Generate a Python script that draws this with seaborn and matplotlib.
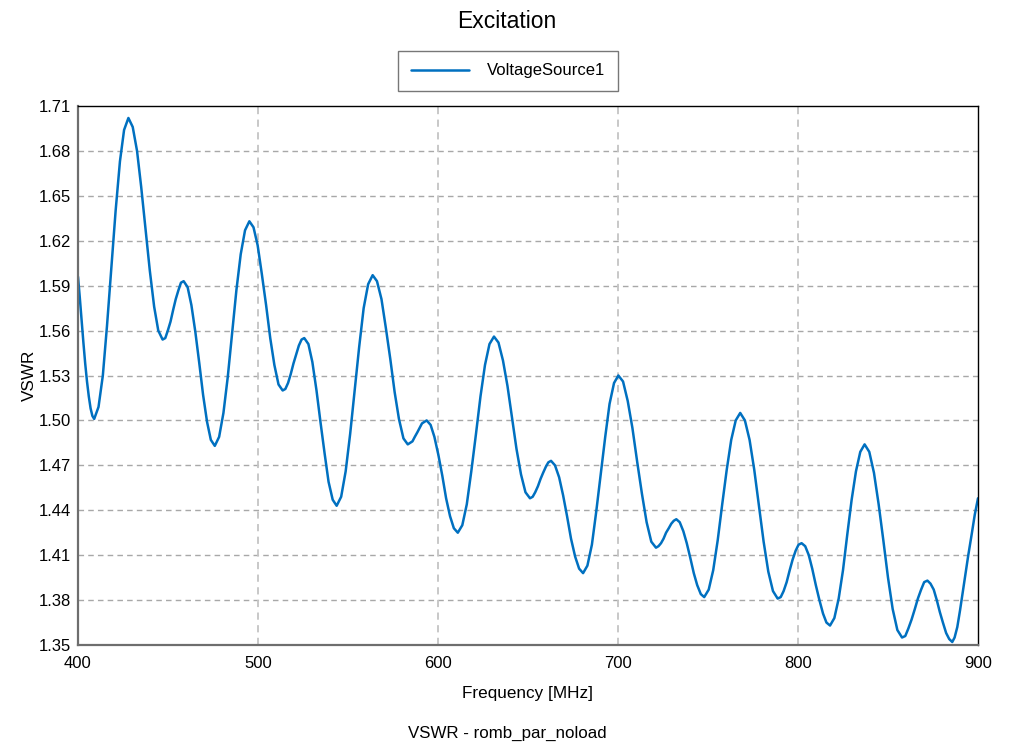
import matplotlib
matplotlib.use("Agg")
import matplotlib.pyplot as plt
import seaborn as sns
import pandas as pd

# ---- data ----
freq_mhz = [
    400, 401, 402, 403, 404, 405, 406, 407, 408, 409,
    411.4, 413.8, 416.1, 418.5, 420.9, 423.3, 425.6, 428,
    430.4, 432.8, 435.1, 437.5, 439.9, 442.3, 444.6, 447,
    448.5, 449.9, 451.4, 452.9, 454.3, 455.8, 457.2, 458.7,
    460.9, 463.0, 465.2, 467.4, 469.5, 471.7, 473.8, 476,
    478.4, 480.8, 483.2, 485.6, 488.0, 490.4, 492.8, 495.2,
    497.5, 499.8, 502.1, 504.5, 506.8, 509.1, 511.4, 513.7,
    515.2, 516.7, 518.2, 519.7, 521.2, 522.7, 524.2, 525.7,
    528.0, 530.2, 532.5, 534.7, 537.0, 539.2, 541.5, 543.7,
    546.2, 548.7, 551.2, 553.7, 556.2, 558.7, 561.2, 563.7,
    566.1, 568.6, 571.0, 573.5, 575.9, 578.3, 580.8, 583.2,
    584.5, 585.8, 587.1, 588.5, 589.8, 591.1, 592.4, 593.7,
    595.9, 598.0, 600.2, 602.4, 604.5, 606.7, 608.8, 611.0,
    613.5, 616.0, 618.5, 621.1, 623.6, 626.1, 628.6, 631.1,
    633.6, 636.1, 638.6, 641.1, 643.6, 646.1, 648.6, 651.1,
    652.6, 654.0, 655.5, 657.0, 658.4, 659.9, 661.3, 662.8,
    665.0, 667.3, 669.5, 671.7, 673.9, 676.2, 678.4, 680.6,
    683.0, 685.5, 687.9, 690.4, 692.9, 695.3, 697.8, 700.2,
    702.8, 705.4, 708.0, 710.7, 713.3, 715.9, 718.5, 721.1,
    722.5, 723.9, 725.3, 726.7, 728.2, 729.6, 731.0, 732.4,
    734.3, 736.3, 738.2, 740.2, 742.1, 744.0, 746.0, 747.9,
    750.4, 752.9, 755.4, 757.9, 760.4, 762.9, 765.4, 767.9,
    770.5, 773.1, 775.7, 778.3, 780.9, 783.5, 786.1, 788.7,
    790.4, 792.0, 793.7, 795.4, 797.0, 798.7, 800.3, 802.0,
    804.0, 806.0, 807.9, 809.9, 811.9, 813.9, 815.8, 817.8,
    820.2, 822.6, 825.0, 827.4, 829.8, 832.2, 834.6, 837.0,
    839.6, 842.2, 844.8, 847.4, 850.0, 852.6, 855.2, 857.8,
    859.6, 861.3, 863.1, 864.9, 866.6, 868.4, 870.1, 871.9,
    873.6, 875.4, 877.1, 878.8, 880.5, 882.3, 884.0, 885.7,
    887.0, 888.5, 890.0, 891.5, 893.0, 894.6, 896.5, 898.2, 900,
]

vswr = [
    1.596, 1.582, 1.567, 1.552, 1.538, 1.526, 1.516, 1.508, 1.503, 1.501,
    1.509, 1.530, 1.563, 1.602, 1.640, 1.673, 1.694, 1.702,
    1.696, 1.680, 1.656, 1.628, 1.600, 1.576, 1.560, 1.554,
    1.555, 1.560, 1.566, 1.574, 1.581, 1.587, 1.592, 1.593,
    1.589, 1.577, 1.559, 1.538, 1.517, 1.499, 1.487, 1.483,
    1.489, 1.505, 1.529, 1.558, 1.587, 1.611, 1.627, 1.633,
    1.629, 1.617, 1.598, 1.577, 1.555, 1.537, 1.524, 1.520,
    1.521, 1.525, 1.531, 1.538, 1.544, 1.550, 1.554, 1.555,
    1.551, 1.539, 1.520, 1.499, 1.478, 1.459, 1.447, 1.443,
    1.449, 1.466, 1.491, 1.520, 1.549, 1.575, 1.591, 1.597,
    1.593, 1.581, 1.562, 1.541, 1.519, 1.501, 1.488, 1.484,
    1.485, 1.486, 1.489, 1.492, 1.495, 1.498, 1.499, 1.500,
    1.497, 1.489, 1.477, 1.463, 1.448, 1.436, 1.428, 1.425,
    1.430, 1.444, 1.466, 1.491, 1.516, 1.537, 1.551, 1.556,
    1.552, 1.540, 1.523, 1.502, 1.481, 1.464, 1.452, 1.448,
    1.449, 1.452, 1.456, 1.461, 1.465, 1.469, 1.472, 1.473,
    1.470, 1.462, 1.450, 1.436, 1.421, 1.409, 1.401, 1.398,
    1.403, 1.417, 1.439, 1.464, 1.489, 1.511, 1.525, 1.530,
    1.526, 1.513, 1.495, 1.472, 1.451, 1.432, 1.419, 1.415,
    1.416, 1.418, 1.421, 1.425, 1.428, 1.431, 1.433, 1.434,
    1.432, 1.426, 1.418, 1.408, 1.398, 1.390, 1.384, 1.382,
    1.387, 1.400, 1.420, 1.444, 1.467, 1.487, 1.500, 1.505,
    1.500, 1.487, 1.467, 1.443, 1.419, 1.399, 1.386, 1.381,
    1.382, 1.386, 1.392, 1.400, 1.407, 1.413, 1.417, 1.418,
    1.416, 1.410, 1.401, 1.390, 1.380, 1.371, 1.365, 1.363,
    1.368, 1.381, 1.400, 1.424, 1.447, 1.466, 1.479, 1.484,
    1.479, 1.465, 1.444, 1.420, 1.395, 1.374, 1.360, 1.355,
    1.356, 1.361, 1.367, 1.374, 1.381, 1.387, 1.392, 1.393,
    1.391, 1.387, 1.380, 1.372, 1.365, 1.358, 1.354, 1.352,
    1.355, 1.362, 1.373, 1.385, 1.397, 1.410, 1.424, 1.437, 1.448,
]

series_name = "VoltageSource1"
x_ticks = [400, 500, 600, 700, 800, 900]
y_ticks = [1.35, 1.38, 1.41, 1.44, 1.47, 1.50, 1.53, 1.56, 1.59, 1.62, 1.65, 1.68, 1.71]

df = pd.DataFrame({"Frequency": freq_mhz, "VSWR": vswr, "Source": series_name})

sns.set_style("white")
plt.rcParams["font.family"] = ["Liberation Sans", "DejaVu Sans"]
plt.rcParams["text.color"] = "black"
plt.rcParams["axes.labelcolor"] = "black"
plt.rcParams["lines.solid_joinstyle"] = "round"

fig = plt.figure(figsize=(10.18, 7.55), dpi=100)
ax = fig.add_axes([78 / 1018, 1 - 645 / 755, 900 / 1018, 539 / 755])

sns.lineplot(data=df, x="Frequency", y="VSWR", hue="Source", palette=["#0070C0"],
             sort=False, estimator=None, linewidth=1.8, ax=ax, legend=False)

ax.set_xlim(400, 900)
ax.set_ylim(1.35, 1.71)
ax.set_xticks(x_ticks)
ax.set_yticks(y_ticks)
ax.set_xticklabels([str(t) for t in x_ticks], fontsize=12)
ax.set_yticklabels([f"{t:.2f}" for t in y_ticks], fontsize=12)
ax.tick_params(axis="y", length=0, pad=5, colors="black")
ax.tick_params(axis="x", length=0, pad=8, colors="black")

# grid
for t in y_ticks[1:-1]:
    ax.axhline(t, color="#a8a8a8", lw=1.0, ls=(0, (4, 3)), zorder=0)
for t in x_ticks[1:-1]:
    ax.axvline(t, color="#c4c4c4", lw=1.3, ls=(0, (4, 3)), zorder=0)

for side in ["left", "bottom"]:
    ax.spines[side].set_color("#6e6e6e")
    ax.spines[side].set_linewidth(1.6)
for side in ["top", "right"]:
    ax.spines[side].set_color("black")
    ax.spines[side].set_linewidth(1.0)

ax.set_xlabel("Frequency [MHz]", fontsize=12.3, labelpad=11)
ax.set_ylabel("VSWR", fontsize=12.3, labelpad=1)

fig.text(507 / 1018, 1 - 22 / 755, "Excitation", ha="center", va="center", fontsize=16.5)
fig.text(507 / 1018, 1 - 733 / 755, "VSWR - romb_par_noload", ha="center", va="center", fontsize=12.2)

handle = plt.Line2D([], [], color="#0070C0", lw=1.8)
leg = fig.legend([handle], [series_name], loc="center",
                 bbox_to_anchor=(508 / 1018, 1 - 71 / 755), fontsize=12,
                 frameon=True, fancybox=False, handlelength=3.5, handletextpad=1.1,
                 borderpad=0.75, borderaxespad=0)
leg.get_frame().set_edgecolor("#555555")
leg.get_frame().set_linewidth(1.0)

fig.savefig("out.png", dpi=100)
